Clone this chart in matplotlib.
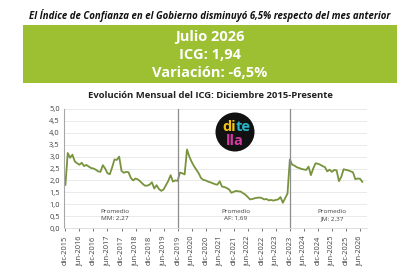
import numpy as np
import matplotlib
matplotlib.use("Agg")
import matplotlib.pyplot as plt
from matplotlib.patches import Circle, Rectangle

# ICG monthly values, dic-2015 .. jul-2026
icg = [1.81, 3.15, 2.95, 3.08, 2.80, 2.72, 2.66, 2.74, 2.60, 2.65, 2.58, 2.52,
       2.50, 2.45, 2.38, 2.36, 2.64, 2.50, 2.30, 2.26, 2.55, 2.88, 2.86, 3.00,
       2.40, 2.32, 2.36, 2.34, 2.10, 2.00, 2.08, 2.04, 1.96, 1.86, 1.78, 1.78,
       1.82, 1.92, 1.66, 1.80, 1.64, 1.56, 1.62, 1.80, 1.98, 2.22, 1.95, 2.00,
       1.98, 2.33, 2.30, 2.25, 3.30, 3.00, 2.78, 2.60, 2.45, 2.30, 2.10, 2.02,
       2.00, 1.95, 1.92, 1.88, 1.84, 1.82, 1.96, 1.74, 1.72, 1.68, 1.62, 1.48,
       1.52, 1.56, 1.54, 1.53, 1.46, 1.40, 1.30, 1.20, 1.22, 1.25, 1.27, 1.28,
       1.26, 1.20, 1.22, 1.16, 1.18, 1.15, 1.18, 1.20, 1.30, 1.06, 1.25, 1.45,
       2.88, 2.66, 2.62, 2.55, 2.52, 2.48, 2.46, 2.44, 2.58, 2.22, 2.50, 2.72,
       2.70, 2.66, 2.60, 2.56, 2.38, 2.45, 2.36, 2.44, 2.42, 1.97, 2.15, 2.47,
       2.44, 2.42, 2.38, 2.34, 2.05, 2.08, 2.07, 1.94]

tick_labels = []
for year in range(2015, 2027):
    for m in ["jun", "dic"]:
        tick_labels.append(f"{m}-{year}")
tick_labels = tick_labels[1:-1]  # dic-2015 .. jun-2026

gov_breaks = [48, 96]  # dic-2019, dic-2023
promedios = ["Promedio\nMM: 2,27", "Promedio\nAF: 1,69", "Promedio\nJM: 2,37"]
promedio_x = [21, 73, 114]

months = np.arange(len(icg))

fig = plt.figure(figsize=(4.2, 2.8), dpi=100)
fig.patch.set_facecolor("white")
font = "Open Sans"

fig.text(0.5, 0.945, "El Índice de Confianza en el Gobierno disminuyó 6,5% respecto del mes anterior",
         ha="center", va="center", fontsize=6.9, fontweight="bold", style="italic",
         color="#111111", family=font)

fig.patches.append(Rectangle((23 / 420, 1 - 83 / 280), 374 / 420, 58 / 280,
                             transform=fig.transFigure, facecolor="#9cc031",
                             edgecolor="none"))
for y, s in [(37, "Julio 2026"), (55, "ICG: 1,94"), (73, "Variación: -6,5%")]:
    fig.text(0.5, 1 - y / 280, s, ha="center", va="center", fontsize=10.5,
             fontweight="bold", color="white", family=font)

fig.text(0.5, 1 - 96 / 280, "Evolución Mensual del ICG: Diciembre 2015-Presente",
         ha="center", va="center", fontsize=6.8, fontweight="bold", color="#222222",
         family=font)

ax = fig.add_axes([64 / 420, 1 - 228 / 280, 303 / 420, 119 / 280])
ax.plot(months, icg, color="#77933c", lw=1.3)
ax.set_xlim(-0.6, 129)
ax.set_ylim(0, 5)
ax.set_yticks(np.arange(0, 5.01, 0.5))
ax.set_yticklabels([f"{v:.1f}".replace(".", ",") for v in np.arange(0, 5.01, 0.5)])
ax.set_xticks(np.arange(0, 127, 6))
ax.set_xticklabels(tick_labels, rotation=90)
ax.tick_params(axis="both", labelsize=5.4, colors="#404040", length=2, width=0.5)
ax.tick_params(axis="y", length=0, pad=3)
for lab in ax.get_xticklabels() + ax.get_yticklabels():
    lab.set_family(font)
ax.grid(axis="y", color="#e6e6e6", lw=0.6)
ax.set_axisbelow(True)
for s in ["top", "right"]:
    ax.spines[s].set_visible(False)
ax.spines["left"].set_color("#a6a6a6")
ax.spines["bottom"].set_color("#d9d9d9")
ax.spines["left"].set_linewidth(0.8)
ax.spines["bottom"].set_linewidth(0.6)
for b in gov_breaks:
    ax.axvline(b, color="#8c8c8c", lw=0.9)
for x, s in zip(promedio_x, promedios):
    ax.text(x, 0.55, s, ha="center", va="center", fontsize=4.6, color="#404040",
            family=font, linespacing=1.5)

# ditella logo
cx, cy, r = 235 / 420, 1 - 132 / 280, 19.5
fig.patches.append(Circle((235, 280 - 132), r, transform=None, facecolor="#111111",
                          edgecolor="none"))
fig.text(cx + 0.003, cy + 0.017, "di", ha="right", va="center", fontsize=10.5,
         fontweight="bold", color="#f2c318", family=font)
fig.text(cx + 0.001, cy + 0.017, "te", ha="left", va="center", fontsize=10.5,
         fontweight="bold", color="#29b6c9", family=font)
fig.text(cx, cy - 0.032, "lla", ha="center", va="center", fontsize=10.5,
         fontweight="bold", color="#d43ba5", family=font)

fig.savefig("out.png", dpi=100)
